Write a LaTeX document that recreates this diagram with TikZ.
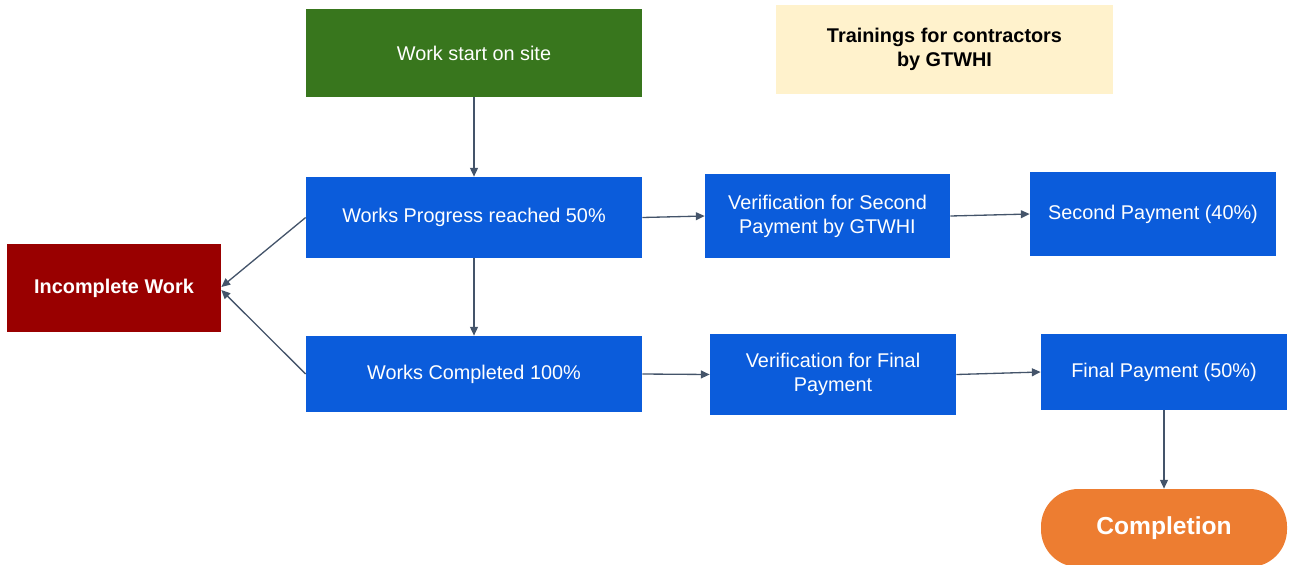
\documentclass[tikz,border=0pt]{standalone}
\usepackage{fontspec}
\setmainfont{Liberation Sans}
\usetikzlibrary{arrows.meta}
\definecolor{cblue}{HTML}{0B5CDB}
\definecolor{cgreen}{HTML}{38761D}
\definecolor{cred}{HTML}{990000}
\definecolor{corange}{HTML}{ED7D31}
\definecolor{cyellow}{HTML}{FFF2CC}
\definecolor{carrow}{HTML}{44546A}
\tikzset{
  box/.style={rectangle, inner sep=2pt, align=center, text=white, font=\fontsize{11.3}{13.6}\selectfont},
  bluebox/.style={box, fill=cblue},
  conn/.style={draw=carrow, line width=0.75pt, -{Triangle[length=5pt,width=4.5pt]}}
}
\begin{document}
\begin{tikzpicture}
\useasboundingbox (0,0) rectangle (25.8,-11.28);
\node[box, fill=cgreen, minimum width=6.72cm, minimum height=1.76cm] (start) at (9.48,-1.06) {Work start on site};
\node[box, fill=cyellow, text=black, font=\fontsize{11.3}{13.6}\selectfont\bfseries, minimum width=6.74cm, minimum height=1.78cm] (train) at (18.89,-0.99) {Trainings for contractors\\by GTWHI};
\node[bluebox, minimum width=6.72cm, minimum height=1.62cm] (wp) at (9.48,-4.35) {Works Progress reached 50\%};
\node[bluebox, minimum width=4.9cm, minimum height=1.68cm] (v2) at (16.55,-4.32) {Verification for Second\\Payment by GTWHI};
\node[bluebox, minimum width=4.92cm, minimum height=1.68cm] (sp) at (23.06,-4.28) {Second Payment (40\%)};
\node[box, fill=cred, font=\fontsize{11.3}{13.6}\selectfont\bfseries, minimum width=4.28cm, minimum height=1.76cm] (inc) at (2.28,-5.76) {Incomplete Work};
\node[bluebox, minimum width=6.72cm, minimum height=1.52cm] (wc) at (9.48,-7.48) {Works Completed 100\%};
\node[bluebox, minimum width=4.92cm, minimum height=1.62cm] (vf) at (16.66,-7.49) {Verification for Final\\Payment};
\node[bluebox, minimum width=4.92cm, minimum height=1.52cm] (fp) at (23.28,-7.44) {Final Payment (50\%)};
\node[box, fill=corange, rounded corners=0.75cm, font=\fontsize{14}{16}\selectfont\bfseries, minimum width=4.92cm, minimum height=1.56cm] (comp) at (23.28,-10.56) {Completion};
\draw[conn] (start) -- (wp);
\draw[conn] (wp) -- (wc);
\draw[conn] (wp.east) -- (v2.west);
\draw[conn] (v2.east) -- (sp.west);
\draw[conn] (wc.east) -- (vf.west);
\draw[conn] (vf.east) -- (fp.west);
\draw[conn] (fp) -- (comp);
\draw[conn] (wp.west) -- ([yshift=0.02cm]inc.east);
\draw[conn] (wc.west) -- ([yshift=-0.04cm]inc.east);
\end{tikzpicture}
\end{document}
